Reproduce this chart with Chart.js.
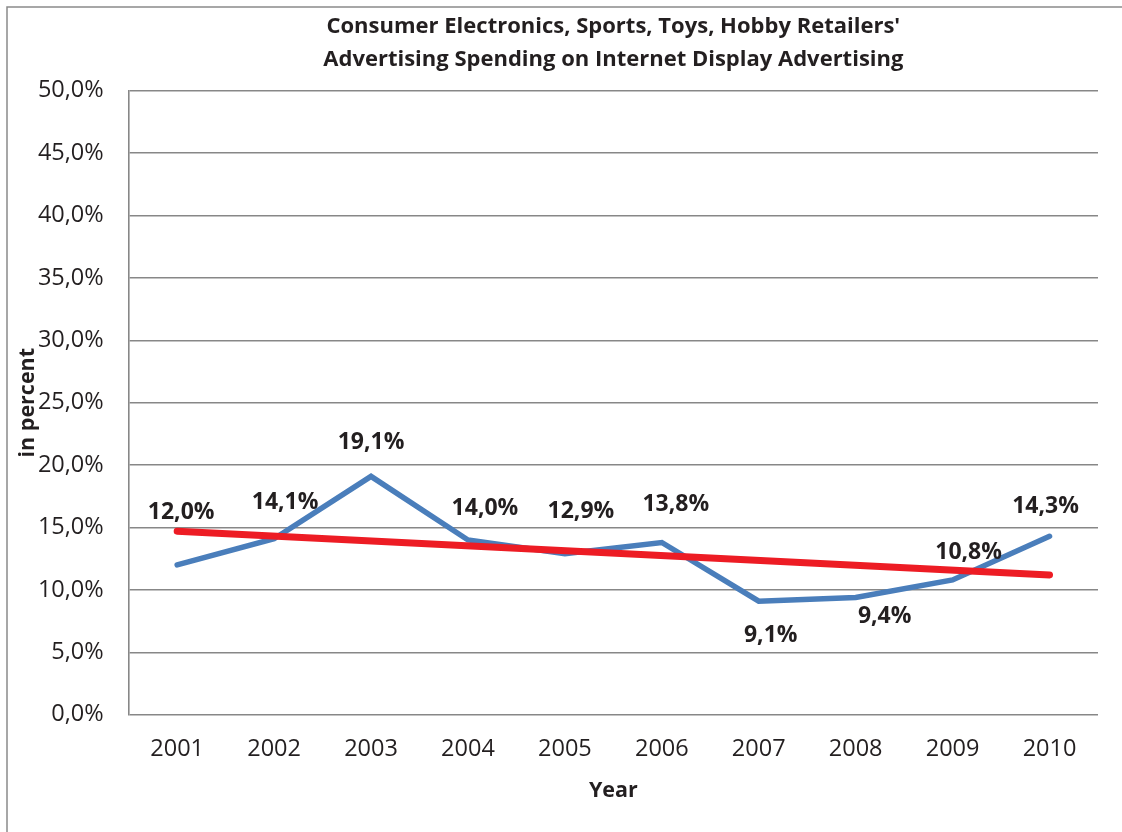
<!DOCTYPE html>
<html>
<head>
<meta charset="utf-8">
<script src="https://cdn.jsdelivr.net/npm/chart.js@4.4.0/dist/chart.umd.min.js"></script>
<style>
  html, body { margin: 0; padding: 0; background: #fff; }
  #wrap { width: 1122px; height: 832px; }
</style>
</head>
<body>
<div id="wrap"><canvas id="lineChart"></canvas></div>
<script>
const years = ['2001', '2002', '2003', '2004', '2005', '2006', '2007', '2008', '2009', '2010'];
const spending = [12.0, 14.1, 19.1, 14.0, 12.9, 13.8, 9.1, 9.4, 10.8, 14.3];
// trend line at both ends
const trend = [14.7, null, null, null, null, null, null, null, null, 11.2];
const titleLines = [
    "Consumer Electronics, Sports, Toys, Hobby Retailers'",
    'Advertising Spending on Internet Display Advertising'
];

// label offsets (px) from each point, as placed in the original
const labelOffsets = [
    [4, -52], [11, -36], [0, -34], [17, -32], [16, -42],
    [14, -38], [12, 34], [29, 19], [16, -27], [-4, -30]
];

const pct = v => v.toFixed(1).replace('.', ',') + '%';

const frame = {
    id: 'frame',
    beforeDraw(chart) {
        const c = chart.ctx;
        c.save();
        c.fillStyle = '#fff';
        c.fillRect(0, 0, chart.width, chart.height);
        c.strokeStyle = '#8a8a8a';
        c.lineWidth = 1.5;
        c.beginPath();
        c.moveTo(7, chart.height);
        c.lineTo(7, 7);
        c.lineTo(chart.width, 7);
        c.stroke();
        c.restore();
    }
};

const pointLabels = {
    id: 'pointLabels',
    afterDatasetsDraw(chart) {
        const meta = chart.getDatasetMeta(0);
        const c = chart.ctx;
        c.save();
        c.font = "bold 23px 'Open Sans'";
        c.fillStyle = '#231f20';
        c.textAlign = 'center';
        c.textBaseline = 'middle';
        meta.data.forEach((pt, i) => {
            const off = labelOffsets[i];
            c.fillText(pct(spending[i]), pt.x + off[0], pt.y + off[1]);
        });
        c.restore();
    }
};

Chart.defaults.font.family = "'Open Sans', sans-serif";
Chart.defaults.color = '#231f20';

new Chart(document.getElementById('lineChart'), {
    type: 'line',
    data: {
        labels: years,
        datasets: [{
            label: 'Spending',
            data: spending,
            borderColor: '#4a7ebb',
            borderWidth: 5.5,
            borderCapStyle: 'round',
            borderJoinStyle: 'miter',
            pointRadius: 0,
            tension: 0,
            order: 2
        }, {
            label: 'Trend',
            data: trend,
            spanGaps: true,
            borderColor: '#ed1c24',
            borderWidth: 7,
            borderCapStyle: 'round',
            pointRadius: 0,
            order: 1
        }]
    },
    options: {
        responsive: true,
        maintainAspectRatio: false,
        animation: false,
        layout: { padding: { left: 0, right: 24, top: 0, bottom: 0 } },
        plugins: {
            legend: { display: false },
            tooltip: { enabled: false },
            title: {
                display: true,
                fullSize: false,
                text: titleLines,
                color: '#231f20',
                font: { size: 22, weight: 'bold', lineHeight: 1.48 },
                padding: { top: 10.5, bottom: 15.1 }
            }
        },
        scales: {
            x: {
                offset: true,
                grid: { display: false, drawTicks: false },
                border: { display: false },
                ticks: { font: { size: 23.5 }, padding: 21, maxRotation: 0 },
                title: {
                    display: true,
                    text: 'Year',
                    font: { size: 21.5, weight: 'bold' },
                    padding: { top: 0, bottom: 28 }
                },
                afterFit: s => { s.height = 832 - 714.7; }
            },
            y: {
                min: 0,
                max: 50,
                grid: { color: '#878787', lineWidth: 1.6, drawTicks: false },
                border: { display: true, color: '#878787', width: 1.6 },
                ticks: {
                    stepSize: 5,
                    font: { size: 23.5 },
                    padding: 25,
                    callback: v => pct(v)
                },
                title: {
                    display: true,
                    text: 'in percent',
                    font: { size: 21.5, weight: 'bold' },
                    padding: { top: 15, bottom: 0 }
                },
                afterFit: s => { s.width = 128.7; }
            }
        }
    },
    plugins: [frame, pointLabels]
});
</script>
</body>
</html>
